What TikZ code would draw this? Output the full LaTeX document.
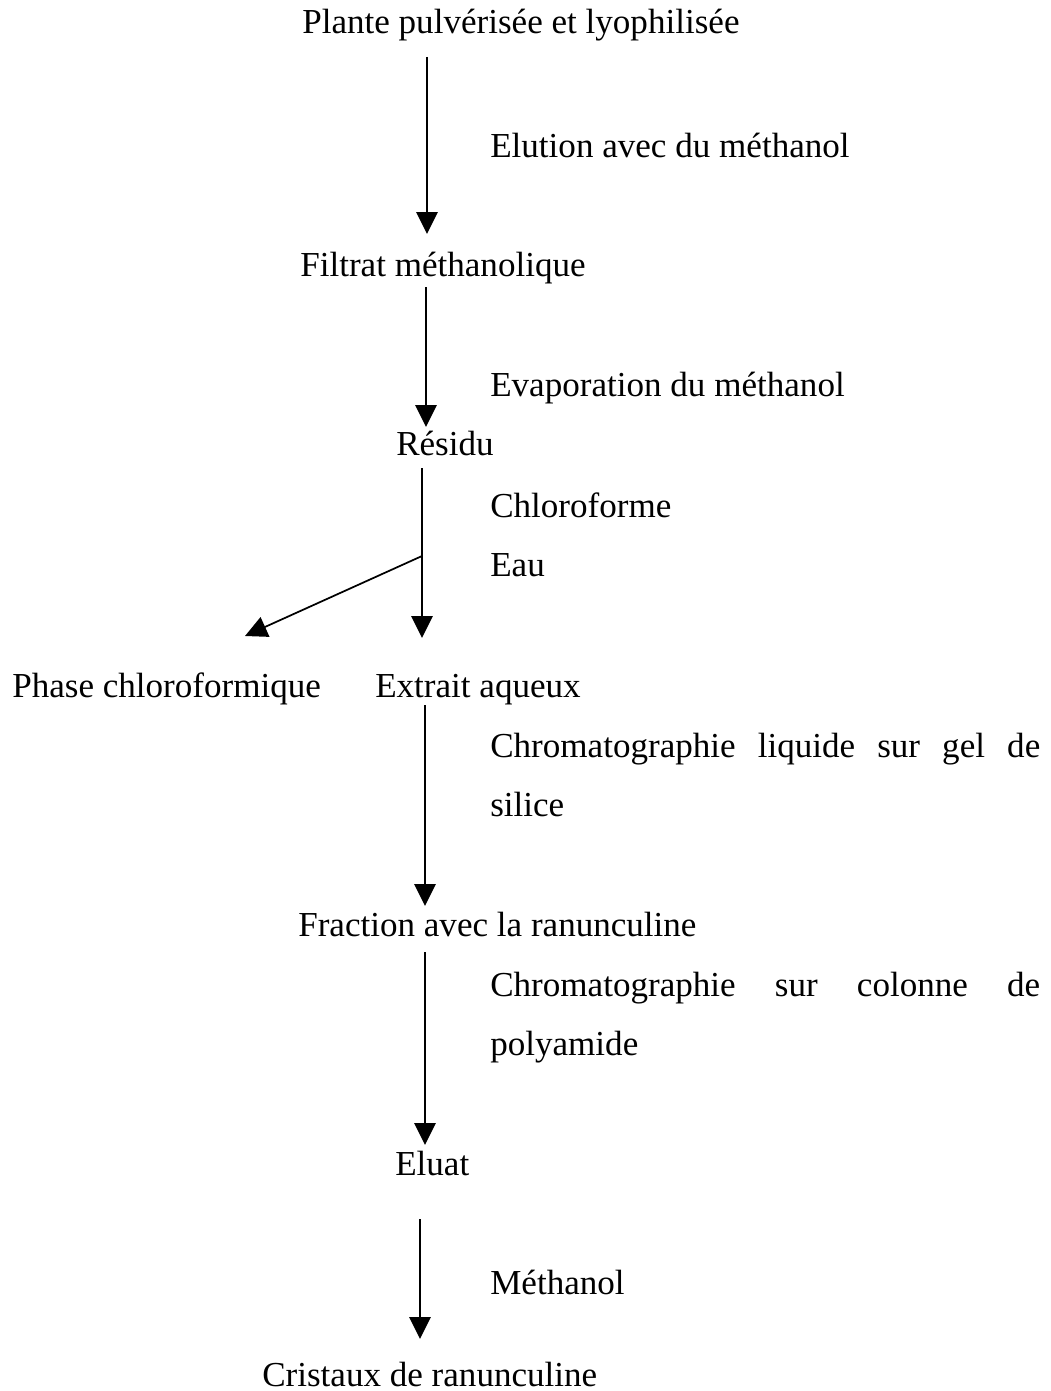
\documentclass[tikz,border=0pt]{standalone}
\usepackage{fontspec}
\setmainfont{Liberation Serif}
\usetikzlibrary{arrows.meta}
\begin{document}
\begin{tikzpicture}[x=0.75pt,y=-0.75pt,
  lbl/.style={anchor=base west,inner sep=0pt,font=\fontsize{26.3}{31}\selectfont},
  flow/.style={line width=1.3pt,-{Triangle[length=16.5pt,width=16pt]}}]
\useasboundingbox (0,0) rectangle (1050,1391);

% products of each step
\node[lbl] (plante)   at (302,34)   {Plante pulvérisée et lyophilisée};
\node[lbl] (filtrat)  at (300,276)  {Filtrat méthanolique};
\node[lbl] (residu)   at (396,455)  {Résidu};
\node[lbl] (phase)    at (12,697)   {Phase chloroformique};
\node[lbl] (extrait)  at (375,697)  {Extrait aqueux};
\node[lbl] (fraction) at (298,936)  {Fraction avec la ranunculine};
\node[lbl] (eluat)    at (395,1175) {Eluat};
\node[lbl] (cristaux) at (262,1386) {Cristaux de ranunculine};

% operations written beside the arrows
\node[lbl] (elution) at (490,157) {Elution avec du méthanol};
\node[lbl] (evap)    at (490,396) {Evaporation du méthanol};
\node[lbl] (chcl)    at (490,517) {Chloroforme};
\node[lbl] (eau)     at (490,576) {Eau};
\node[lbl] (chromA)  at (490,757) {\makebox[412.5pt][s]{Chromatographie liquide sur gel de}};
\node[lbl] (chromAb) at (490,816) {silice};
\node[lbl] (chromB)  at (490,996) {\makebox[412.5pt][s]{Chromatographie sur colonne de}};
\node[lbl] (chromBb) at (490,1055) {polyamide};
\node[lbl] (meoh)    at (490,1294) {Méthanol};

% arrow end points
\coordinate (a1s) at (427,57);   \coordinate (a1e) at (427,234);
\coordinate (a2s) at (426,287);  \coordinate (a2e) at (426,427);
\coordinate (a3s) at (422,468);  \coordinate (a3e) at (422,638);
\coordinate (br)  at (422,556);  \coordinate (bre) at (245,636);
\coordinate (a4s) at (425,705);  \coordinate (a4e) at (425,906);
\coordinate (a5s) at (425,952);  \coordinate (a5e) at (425,1145);
\coordinate (a6s) at (420,1219); \coordinate (a6e) at (420,1339);

\draw[flow] (a1s) -- (a1e);
\draw[flow] (a2s) -- (a2e);
\draw[flow] (a3s) -- (a3e);
\draw[flow] (br) -- (bre);
\draw[flow] (a4s) -- (a4e);
\draw[flow] (a5s) -- (a5e);
\draw[flow] (a6s) -- (a6e);
\end{tikzpicture}
\end{document}
